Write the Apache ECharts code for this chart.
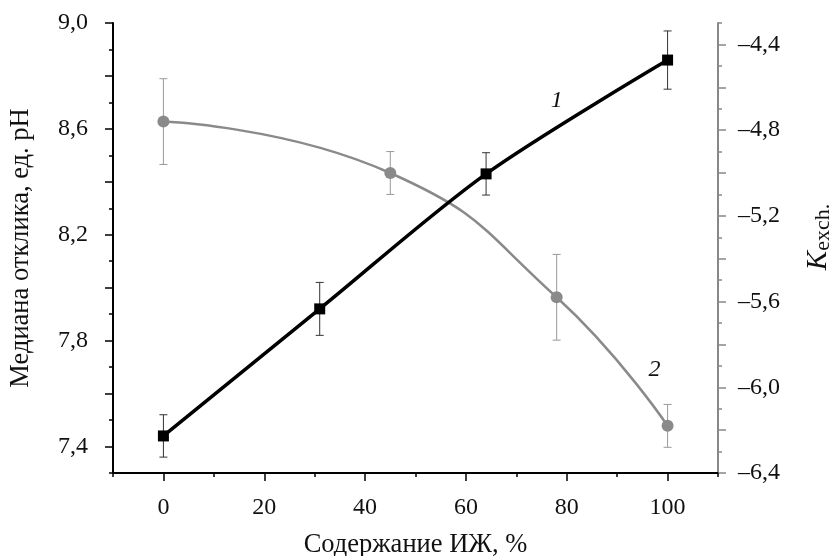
<!DOCTYPE html>
<html>
<head>
<meta charset="utf-8">
<script src="https://cdn.jsdelivr.net/npm/echarts@6/dist/echarts.min.js"></script>
<style>
  html, body { margin: 0; padding: 0; background: #fff; }
  #main { width: 836px; height: 556px; }
</style>
</head>
<body>
<div id="main"></div>
<script>
// кривая 1: медиана отклика (левая ось)
var x1 = [0, 31, 64, 100]
var median = [7.44, 7.92, 8.43, 8.86]
var medianErr = [0.08, 0.10, 0.08, 0.11]

// кривая 2: Kexch (правая ось)
var x2 = [0, 45, 78, 100]
var kexch = [-4.76, -5.0, -5.58, -6.18]
var kexchErr = [0.2, 0.1, 0.2, 0.1]

// подписи и деления осей
var xLabels = [0, 20, 40, 60, 80, 100]
var xMinor = [-10, 10, 30, 50, 70, 90, 110]
var leftLabels = [7.4, 7.8, 8.2, 8.6, 9.0]
var leftMajor = [7.4, 7.6, 7.8, 8.0, 8.2, 8.4, 8.6, 8.8, 9.0]
var leftMinor = [7.3, 7.5, 7.7, 7.9, 8.1, 8.3, 8.5, 8.7, 8.9]
var rightLabels = [-6.4, -6.0, -5.6, -5.2, -4.8, -4.4]
var rightMajor = [-6.4, -6.2, -6.0, -5.8, -5.6, -5.4, -5.2, -5.0, -4.8, -4.6, -4.4]
var rightMinor = [-6.3, -6.1, -5.9, -5.7, -5.5, -5.3, -5.1, -4.9, -4.7, -4.5, -4.3]

var font = 'Liberation Serif'

function pair (xs, ys) {
  return xs.map(function (x, i) { return [x, ys[i]] })
}
function bars (xs, ys, es) {
  return xs.map(function (x, i) { return [x, ys[i] - es[i], ys[i] + es[i]] })
}
function errRender (color) {
  return function (params, api) {
    var top = api.coord([api.value(0), api.value(2)])
    var bot = api.coord([api.value(0), api.value(1)])
    var w = 4
    var st = {stroke: color, lineWidth: 1}
    return {
      type: 'group',
      children: [
        {type: 'line', shape: {x1: top[0], y1: top[1], x2: bot[0], y2: bot[1]}, style: st},
        {type: 'line', shape: {x1: top[0] - w, y1: top[1], x2: top[0] + w, y2: top[1]}, style: st},
        {type: 'line', shape: {x1: bot[0] - w, y1: bot[1], x2: bot[0] + w, y2: bot[1]}, style: st}
      ]
    }
  }
}
function comma (v) {
  return Math.abs(v).toFixed(1).replace('.', ',')
}

var labelStyle = {fontFamily: font, fontSize: 24, color: '#111'}
var titleStyle = {fontFamily: font, fontSize: 26.5, color: '#111'}

var option = {
  animation: false,
  grid: {left: 113, right: 118, top: 23, bottom: 83, containLabel: false, outerBoundsMode: 'none'},
  xAxis: [
    {
      type: 'value', min: -10, max: 110,
      name: 'Содержание ИЖ, %',
      nameLocation: 'middle', nameGap: 59,
      nameTextStyle: titleStyle,
      axisLine: {onZero: false, lineStyle: {color: '#000', width: 2}},
      axisTick: {show: true, length: 8, customValues: xLabels, lineStyle: {color: '#000', width: 1.5}},
      axisLabel: Object.assign({margin: 23, customValues: xLabels}, labelStyle),
      splitLine: {show: false}
    },
    {
      type: 'value', min: -10, max: 110, position: 'bottom',
      axisLine: {show: false},
      axisTick: {show: true, length: 4, customValues: xMinor, lineStyle: {color: '#000', width: 1.5}},
      axisLabel: {show: false},
      splitLine: {show: false}
    }
  ],
  yAxis: [
    {
      type: 'value', min: 7.3, max: 9.0, position: 'left',
      name: 'Медиана отклика, ед. pH',
      nameLocation: 'middle', nameGap: 78,
      nameTextStyle: titleStyle,
      axisLine: {onZero: false, lineStyle: {color: '#000', width: 2}},
      axisTick: {show: true, length: 8, customValues: leftMajor, lineStyle: {color: '#000', width: 1.5}},
      axisLabel: Object.assign({margin: 25, customValues: leftLabels, formatter: comma}, labelStyle),
      splitLine: {show: false}
    },
    {
      type: 'value', min: -6.4, max: -4.3, position: 'right',
      name: '{k|K}{s|exch.}',
      nameLocation: 'middle', nameGap: 86, nameRotate: 90,
      nameTextStyle: {
        padding: [0, 0, 0, 22],
        rich: {
          k: {fontFamily: font, fontSize: 29, fontStyle: 'italic', color: '#111', lineHeight: 30, verticalAlign: 'top'},
          s: {fontFamily: font, fontSize: 22, color: '#111', lineHeight: 22, verticalAlign: 'bottom'}
        }
      },
      axisLine: {onZero: false, lineStyle: {color: '#888', width: 2}},
      axisTick: {show: true, length: 8, customValues: rightMajor, lineStyle: {color: '#888', width: 1.5}},
      axisLabel: Object.assign({
        margin: 20, customValues: rightLabels,
        formatter: function (v) { return '–' + comma(v) }
      }, labelStyle),
      splitLine: {show: false}
    },
    {
      type: 'value', min: 7.3, max: 9.0, position: 'left',
      axisLine: {show: false, onZero: false},
      axisTick: {show: true, length: 4, customValues: leftMinor, lineStyle: {color: '#000', width: 1.5}},
      axisLabel: {show: false},
      splitLine: {show: false}
    },
    {
      type: 'value', min: -6.4, max: -4.3, position: 'right',
      axisLine: {show: false, onZero: false},
      axisTick: {show: true, length: 4, customValues: rightMinor, lineStyle: {color: '#888', width: 1.5}},
      axisLabel: {show: false},
      splitLine: {show: false}
    }
  ],
  series: [
    {
      type: 'custom', name: 'err1', xAxisIndex: 0, yAxisIndex: 0, z: 1,
      renderItem: errRender('#333'),
      encode: {x: 0, y: [1, 2]},
      data: bars(x1, median, medianErr)
    },
    {
      type: 'custom', name: 'err2', xAxisIndex: 0, yAxisIndex: 1, z: 1,
      renderItem: errRender('#999'),
      encode: {x: 0, y: [1, 2]},
      data: bars(x2, kexch, kexchErr)
    },
    {
      type: 'line', name: '2', xAxisIndex: 0, yAxisIndex: 1, z: 2,
      data: pair(x2, kexch),
      smooth: 0.5,
      symbol: 'circle', symbolSize: 12,
      lineStyle: {color: '#8a8a8a', width: 2.5},
      itemStyle: {color: '#8a8a8a'},
      markPoint: {
        symbol: 'circle', symbolSize: 0,
        label: {show: true, position: 'inside', formatter: '2', fontFamily: font, fontSize: 24, fontStyle: 'italic', color: '#111'},
        data: [{coord: [97.4, -5.92]}]
      }
    },
    {
      type: 'line', name: '1', xAxisIndex: 0, yAxisIndex: 0, z: 3,
      data: pair(x1, median),
      smooth: 0.3,
      symbol: 'rect', symbolSize: 11,
      lineStyle: {color: '#000', width: 3.5},
      itemStyle: {color: '#000'},
      markPoint: {
        symbol: 'circle', symbolSize: 0,
        label: {show: true, position: 'inside', formatter: '1', fontFamily: font, fontSize: 24, fontStyle: 'italic', color: '#111'},
        data: [{coord: [78, 8.705]}]
      }
    }
  ]
}

var myChart = echarts.init(document.getElementById('main'))
myChart.setOption(option)
</script>
</body>
</html>
